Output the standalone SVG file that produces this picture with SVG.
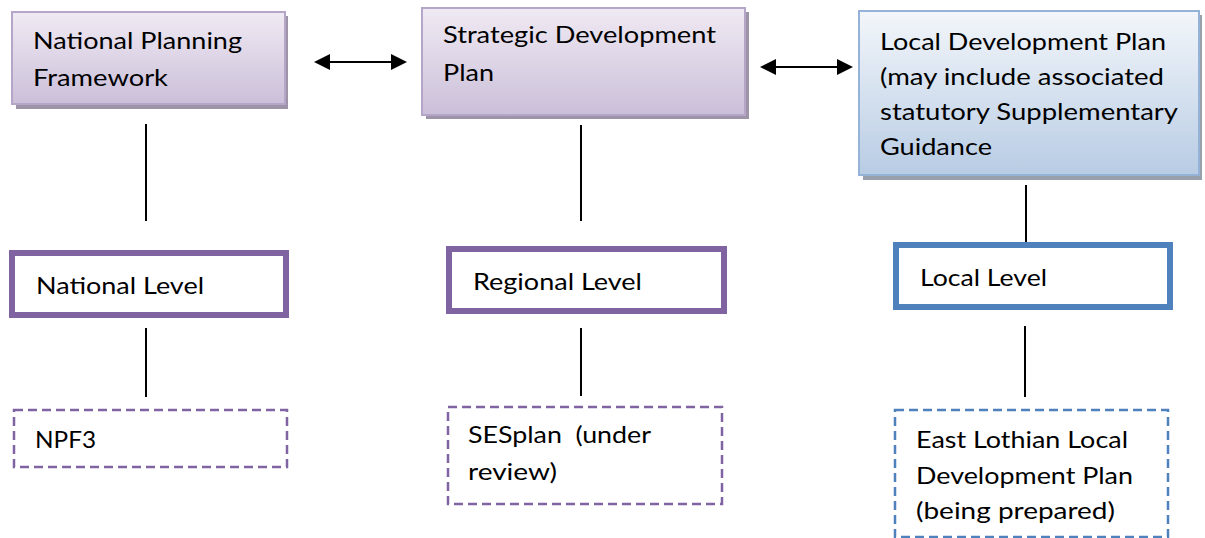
<svg xmlns="http://www.w3.org/2000/svg" width="1205" height="538" viewBox="0 0 1205 538">
<style>
text{font-family:Lato,"Open Sans",sans-serif;font-size:24px;fill:#000}
.pbox{fill:url(#gp);stroke:#b5a5c9;stroke-width:2}
.bbox{fill:url(#gb);stroke:#95b3d7;stroke-width:2}
.shp{fill:#9d94a8}
.shb{fill:#97a0ab}
.lvp{fill:#fff;stroke:#8064a2;stroke-width:6}
.lvb{fill:#fff;stroke:#4f81bd;stroke-width:6}
.dp{fill:#fff;stroke:#8064a2;stroke-width:2.5;stroke-dasharray:9 5}
.db{fill:#fff;stroke:#4f81bd;stroke-width:2.5;stroke-dasharray:9 5}
.ln{stroke:#000;stroke-width:2;fill:none}
</style>
<defs>
<linearGradient id="gp" x1="0" y1="0" x2="0" y2="1">
<stop offset="0" stop-color="#f0eaf3"/><stop offset="1" stop-color="#cbbfd9"/>
</linearGradient>
<linearGradient id="gb" x1="0" y1="0" x2="0" y2="1">
<stop offset="0" stop-color="#f3f6fa"/><stop offset="1" stop-color="#b8cce4"/>
</linearGradient>
</defs>
<g id="connectors">
<line class="ln" x1="328" y1="62" x2="394" y2="62"/>
<path d="M314,62 L330,54 L330,70 Z" fill="#000"/>
<path d="M407,62 L391,54 L391,70 Z" fill="#000"/>
<line class="ln" x1="774" y1="67" x2="840" y2="67"/>
<path d="M760,67 L776,59 L776,75 Z" fill="#000"/>
<path d="M853,67 L837,59 L837,75 Z" fill="#000"/>
<line class="ln" x1="146" y1="124" x2="146" y2="221"/>
<line class="ln" x1="581" y1="125" x2="581" y2="221"/>
<line class="ln" x1="1026" y1="185" x2="1026" y2="242"/>
<line class="ln" x1="146" y1="328" x2="146" y2="397"/>
<line class="ln" x1="581" y1="328" x2="581" y2="396"/>
<line class="ln" x1="1025" y1="326" x2="1025" y2="397"/>
</g>
<g id="npf">
<rect class="shp" x="16" y="16" width="272" height="93"/>
<rect class="pbox" x="12" y="12" width="273" height="92"/>
<text x="33" y="49" textLength="209" lengthAdjust="spacingAndGlyphs">National Planning</text>
<text x="33" y="86" textLength="135" lengthAdjust="spacingAndGlyphs">Framework</text>
</g>
<g id="sdp">
<rect class="shp" x="426" y="12" width="323" height="107"/>
<rect class="pbox" x="422" y="8" width="323" height="107"/>
<text x="443" y="43" textLength="273" lengthAdjust="spacingAndGlyphs">Strategic Development</text>
<text x="443" y="81" textLength="51" lengthAdjust="spacingAndGlyphs">Plan</text>
</g>
<g id="ldp">
<rect class="shb" x="863" y="15" width="339" height="165"/>
<rect class="bbox" x="859" y="11" width="340" height="164"/>
<text x="880" y="50" textLength="286" lengthAdjust="spacingAndGlyphs">Local Development Plan</text>
<text x="880" y="85" textLength="284" lengthAdjust="spacingAndGlyphs">(may include associated</text>
<text x="880" y="120" textLength="298" lengthAdjust="spacingAndGlyphs">statutory Supplementary</text>
<text x="880" y="155" textLength="112" lengthAdjust="spacingAndGlyphs">Guidance</text>
</g>
<g id="national-level">
<rect class="lvp" x="12" y="253" width="274" height="62"/>
<text x="36" y="294" textLength="168" lengthAdjust="spacingAndGlyphs">National Level</text>
</g>
<g id="regional-level">
<rect class="lvp" x="449" y="249" width="275" height="62"/>
<text x="473" y="290" textLength="169" lengthAdjust="spacingAndGlyphs">Regional Level</text>
</g>
<g id="local-level">
<rect class="lvb" x="896" y="245" width="274" height="62"/>
<text x="920" y="286" textLength="127" lengthAdjust="spacingAndGlyphs">Local Level</text>
</g>
<g id="npf3">
<rect class="dp" x="14" y="410" width="273" height="57"/>
<text x="35" y="448" textLength="61" lengthAdjust="spacingAndGlyphs">NPF3</text>
</g>
<g id="sesplan">
<rect class="dp" x="448" y="407" width="274" height="97"/>
<text x="468" y="443" textLength="183" lengthAdjust="spacingAndGlyphs" xml:space="preserve">SESplan  (under</text>
<text x="468" y="480" textLength="89" lengthAdjust="spacingAndGlyphs">review)</text>
</g>
<g id="east-lothian">
<rect class="db" x="895" y="410" width="273" height="127"/>
<text x="916" y="448" textLength="212" lengthAdjust="spacingAndGlyphs">East Lothian Local</text>
<text x="916" y="484" textLength="217" lengthAdjust="spacingAndGlyphs">Development Plan</text>
<text x="916" y="519" textLength="199" lengthAdjust="spacingAndGlyphs">(being prepared)</text>
</g>
</svg>
